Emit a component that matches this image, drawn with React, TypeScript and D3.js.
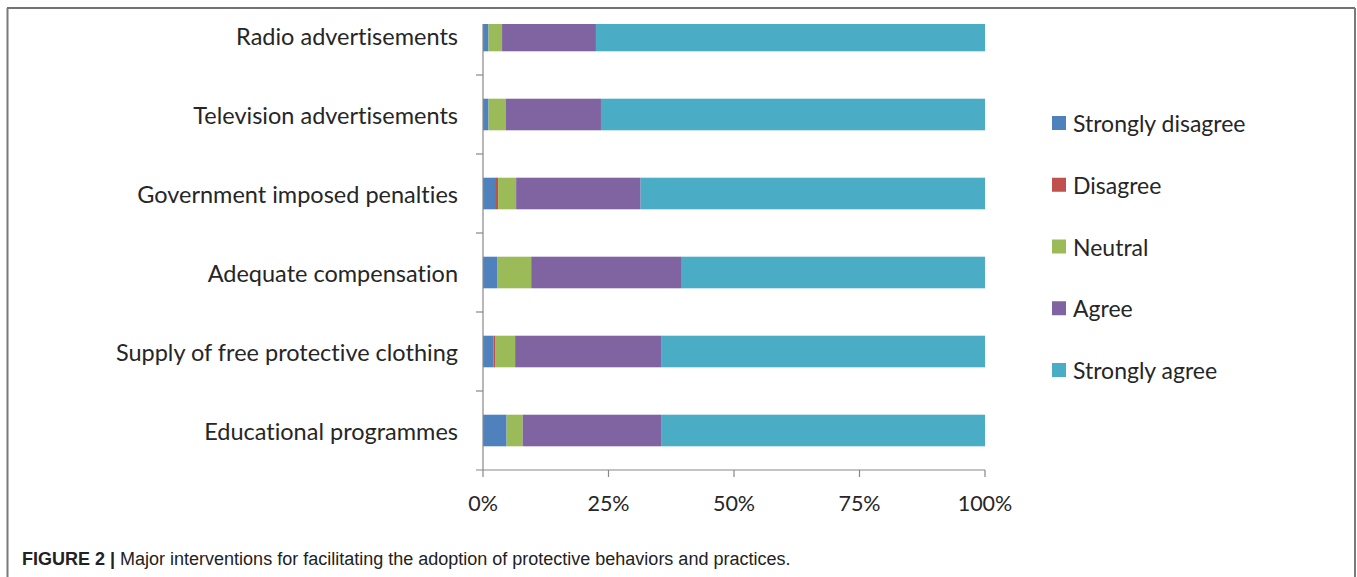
import React from "react";
import * as d3 from "d3";

const categories = [
  "Radio advertisements",
  "Television advertisements",
  "Government imposed penalties",
  "Adequate compensation",
  "Supply of free protective clothing",
  "Educational programmes",
];
const seriesNames = ["Strongly disagree", "Disagree", "Neutral", "Agree", "Strongly agree"];
const stronglyDisagree = [1.1, 1.1, 2.4, 2.8, 2.1, 4.7];
const disagree = [0, 0, 0.6, 0, 0.3, 0];
const neutral = [2.7, 3.4, 3.6, 6.8, 4.0, 3.2];
const agree = [18.7, 19.0, 24.8, 30.0, 29.2, 27.7];
const stronglyAgree = [77.5, 76.5, 68.6, 60.4, 64.4, 64.4];
const xTicks = [0, 25, 50, 75, 100];
const colors = ["#4F81BD", "#C0504D", "#9BBB59", "#8064A2", "#4BACC6"];

const W = 1357;
const H = 577;
const labelFont = "Lato, 'Open Sans', sans-serif";
const noLig = { fontVariantLigatures: "none" as const };

export default function App() {
  const rows = categories.map((c, i) => {
    const vals = [stronglyDisagree[i], disagree[i], neutral[i], agree[i], stronglyAgree[i]];
    const total = d3.sum(vals);
    const o: any = { cat: c };
    seriesNames.forEach((s, k) => (o[s] = (vals[k] / total) * 100));
    return o;
  });
  const stacked = d3.stack<any>().keys(seriesNames)(rows);

  const x = d3.scaleLinear().domain([0, 100]).range([483, 985]);
  const y = d3
    .scaleBand<string>()
    .domain(categories)
    .range([-4, 470])
    .paddingInner(0.6)
    .paddingOuter(0.3);
  const step = y.step();
  const y0 = y.range()[0];
  const yAxisBottom = 470;
  const clipTop = 24;

  const legendY = d3.scalePoint<string>().domain(seriesNames).range([123, 370]);

  return (
    <svg
      width={W}
      height={H}
      style={{ position: "absolute", left: 0, top: 0, display: "block", background: "#fff" }}
    >
      <defs>
        <clipPath id="plotClip">
          <rect x={0} y={clipTop} width={W} height={H - clipTop} />
        </clipPath>
      </defs>
      {/* frame */}
      <line x1={7} x2={1355} y1={8} y2={8} stroke="#444" strokeWidth={1.5} />
      <line x1={7.5} x2={7.5} y1={8} y2={H} stroke="#7a7a7a" strokeWidth={2} />
      <line x1={1355} x2={1355} y1={8} y2={H} stroke="#7a7a7a" strokeWidth={2} />

      <g clipPath="url(#plotClip)">
        {stacked.map((layer, k) =>
          layer.map((d, i) => (
            <rect
              key={`${k}-${i}`}
              x={x(d[0])}
              y={y(categories[i])}
              width={Math.max(0, x(d[1]) - x(d[0]))}
              height={y.bandwidth()}
              fill={colors[k]}
            />
          ))
        )}
        {/* y axis */}
        <line x1={483} x2={483} y1={clipTop} y2={yAxisBottom} stroke="#888" strokeWidth={1.2} />
        {categories.slice(1).map((c, i) => (
          <line
            key={c}
            x1={476}
            x2={483}
            y1={y0 + step * (i + 1)}
            y2={y0 + step * (i + 1)}
            stroke="#888"
            strokeWidth={1.2}
          />
        ))}
      </g>
      {/* x axis */}
      <line x1={476} x2={985} y1={yAxisBottom} y2={yAxisBottom} stroke="#888" strokeWidth={1.2} />
      {xTicks.map((t) => (
        <g key={t}>
          <line x1={x(t)} x2={x(t)} y1={yAxisBottom} y2={yAxisBottom + 7} stroke="#888" strokeWidth={1.2} />
          <text
            x={x(t)}
            y={503}
            textAnchor="middle"
            dominantBaseline="central"
            fontFamily={labelFont}
            fontSize={21.5}
            fill="#262626"
            style={noLig}
          >
            {t}%
          </text>
        </g>
      ))}
      {/* category labels */}
      {categories.map((c) => (
        <text
          key={c}
          x={458}
          y={(y(c) as number) + y.bandwidth() / 2}
          textAnchor="end"
          dominantBaseline="central"
          fontFamily={labelFont}
          fontSize={23.5}
          fill="#262626"
          style={noLig}
        >
          {c}
        </text>
      ))}
      {/* legend */}
      {seriesNames.map((s, k) => (
        <g key={s} transform={`translate(1052,${legendY(s)})`}>
          <rect x={0} y={-7} width={14} height={14} fill={colors[k]} />
          <text
            x={21}
            y={0}
            dominantBaseline="central"
            fontFamily={labelFont}
            fontSize={23}
            fill="#262626"
            style={noLig}
          >
            {s}
          </text>
        </g>
      ))}
      {/* caption */}
      <text x={22} y={565} fontFamily="'Liberation Sans', Arial, sans-serif" fontSize={18} fill="#222">
        <tspan fontWeight="bold">FIGURE 2 |</tspan>
        <tspan> Major interventions for facilitating the adoption of protective behaviors and practices.</tspan>
      </text>
    </svg>
  );
}
